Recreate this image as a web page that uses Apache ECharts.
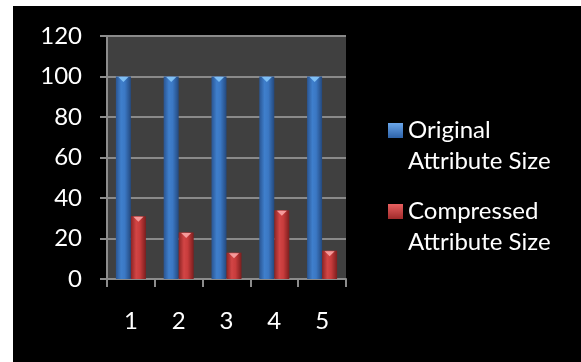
<!DOCTYPE html>
<html><head><meta charset="utf-8">
<script src="https://cdn.jsdelivr.net/npm/echarts@6/dist/echarts.min.js"></script>
<style>
html,body{margin:0;padding:0;background:#fff;width:581px;height:362px;overflow:hidden}
#c{position:absolute;left:13px;top:6px;width:568px;height:356px;background:#000}
</style></head><body><div id="c"></div>
<script>
const categories = ['1','2','3','4','5'];
const originalSize = [100,100,100,100,100];
const compressedSize = [31,23,13,34,14];
const seriesNames = ['Original\nAttribute Size','Compressed\nAttribute Size'];
const yTicks = {min:0,max:120,interval:20};

const blueGrad = {type:'linear',x:0,y:0,x2:1,y2:0,colorStops:[
  {offset:0,color:'#2a5592'},{offset:0.35,color:'#3f7fcc'},{offset:0.6,color:'#3b78c4'},{offset:1,color:'#24497e'}]};
const redGrad = {type:'linear',x:0,y:0,x2:1,y2:0,colorStops:[
  {offset:0,color:'#8c2424'},{offset:0.35,color:'#d24545'},{offset:0.6,color:'#c83c3c'},{offset:1,color:'#7c1e1e'}]};
const blueIcon = {type:'linear',x:0,y:0,x2:0,y2:1,colorStops:[{offset:0,color:'#6aa6ea'},{offset:1,color:'#2d62a8'}]};
const redIcon = {type:'linear',x:0,y:0,x2:0,y2:1,colorStops:[{offset:0,color:'#e86060'},{offset:1,color:'#a02a2a'}]};

const font = 'Lato';
const legendText = {color:'#fff',fontSize:24,fontFamily:font,lineHeight:31};
const fmt = n => ' \n' + n;
function caps(values, color){
  return {silent:true,symbol:'triangle',symbolRotate:180,symbolSize:[10,5],symbolOffset:[0,3],
    label:{show:false},itemStyle:{color:color},
    data:values.map((v,i)=>({coord:[i,v]}))};
}
const chart = echarts.init(document.getElementById('c'));
chart.setOption({
  animation:false,
  grid:{left:94,top:30,right:235,bottom:83,show:true,backgroundColor:'#404040',borderWidth:0},
  legend:[
    {orient:'vertical',left:375,top:78,padding:0,itemWidth:15,itemHeight:15,icon:'rect',formatter:fmt,
     data:[{name:seriesNames[0],itemStyle:{color:blueIcon}}],textStyle:legendText},
    {orient:'vertical',left:375,top:159,padding:0,itemWidth:15,itemHeight:15,icon:'rect',formatter:fmt,
     data:[{name:seriesNames[1],itemStyle:{color:redIcon}}],textStyle:legendText}
  ],
  xAxis:{type:'category',data:categories,
    axisLine:{lineStyle:{color:'#8c8c8c',width:2}},
    axisTick:{show:true,length:8,lineStyle:{color:'#8c8c8c',width:2}},
    axisLabel:{color:'#fff',fontSize:24,fontFamily:font,margin:30},
    splitLine:{show:false}},
  yAxis:{type:'value',min:yTicks.min,max:yTicks.max,interval:yTicks.interval,
    axisLine:{show:true,lineStyle:{color:'#8c8c8c',width:2}},
    axisTick:{show:true,length:7,lineStyle:{color:'#8c8c8c',width:2}},
    axisLabel:{color:'#fff',fontSize:24,fontFamily:font,margin:25},
    splitLine:{lineStyle:{color:'#8a8a8a',width:2}}},
  series:[
    {name:seriesNames[0],type:'bar',data:originalSize,barWidth:15,barGap:'0%',
     itemStyle:{color:blueGrad},markPoint:caps(originalSize,'#7fc0f5')},
    {name:seriesNames[1],type:'bar',data:compressedSize,barWidth:15,barGap:'0%',
     itemStyle:{color:redGrad},markPoint:caps(compressedSize,'#f59a9a')}
  ]
});
</script></body></html>
